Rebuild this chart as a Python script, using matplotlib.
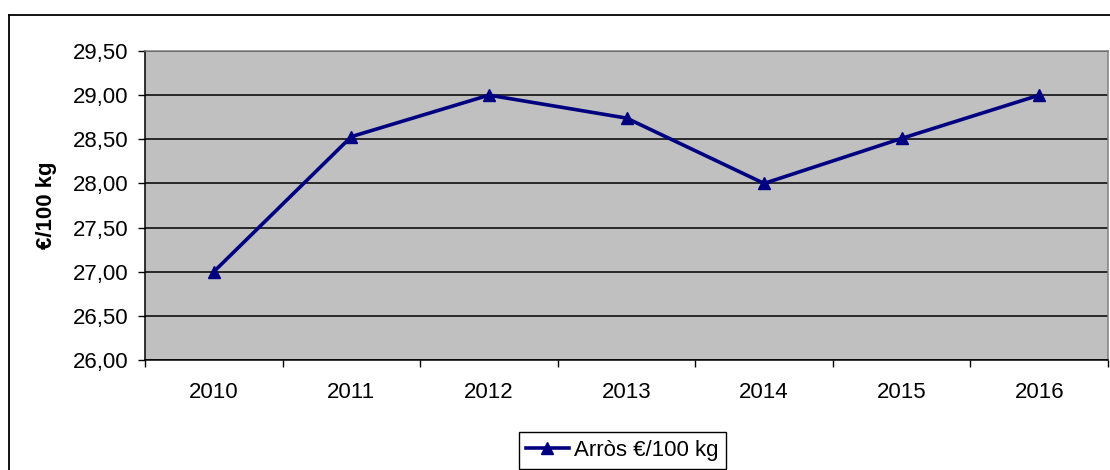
import matplotlib
matplotlib.use("Agg")
import matplotlib.pyplot as plt
from matplotlib.lines import Line2D
from matplotlib.ticker import FixedLocator, FuncFormatter

plt.rcParams['font.family'] = ['Liberation Sans', 'DejaVu Sans']

years = ['2010', '2011', '2012', '2013', '2014', '2015', '2016']
values = [27.00, 28.53, 29.00, 28.74, 28.00, 28.51, 29.00]
series_name = 'Arròs €/100 kg'
y_label = '€/100 kg'
y_ticks = [26.0, 26.5, 27.0, 27.5, 28.0, 28.5, 29.0, 29.5]

FS = 16
W, H = 1110, 470
fig = plt.figure(figsize=(W / 100, H / 100), dpi=100)
ax = fig.add_axes([145 / W, 1 - 360 / H, (1108 - 145) / W, (360 - 51) / H])

ax.set_facecolor('#C0C0C0')
x = list(range(len(years)))
line, = ax.plot(x, values, color='#000080', linewidth=2.6, marker='^',
                markersize=8, markerfacecolor='#000080', markeredgecolor='#000080',
                label=series_name, zorder=3)

ax.set_xlim(-0.5, len(years) - 0.5)
ax.set_ylim(y_ticks[0], y_ticks[-1])

# y axis
ax.set_yticks(y_ticks)
ax.yaxis.set_major_formatter(FuncFormatter(lambda v, p: f"{v:.2f}".replace('.', ',')))
ax.tick_params(axis='y', direction='out', length=5, width=1, pad=7, labelsize=FS, colors='black')
ax.grid(axis='y', color='black', linewidth=1.1, zorder=1)
ax.set_axisbelow(True)

# x axis: ticks at boundaries, labels at centers
ax.xaxis.set_major_locator(FixedLocator([i - 0.5 for i in range(len(years) + 1)]))
ax.xaxis.set_major_formatter(FuncFormatter(lambda v, p: ''))
ax.xaxis.set_minor_locator(FixedLocator(x))
ax.xaxis.set_minor_formatter(FuncFormatter(lambda v, p: years[int(round(v))]))
ax.tick_params(axis='x', which='major', direction='out', length=5, width=1)
ax.tick_params(axis='x', which='minor', length=0, pad=16, labelsize=FS)

for side in ['left', 'bottom']:
    ax.spines[side].set_color('black')
    ax.spines[side].set_linewidth(1.1)
for side in ['top', 'right']:
    ax.spines[side].set_color('#808080')
    ax.spines[side].set_linewidth(1.1)

ax.set_ylabel(y_label, fontsize=FS, fontweight='bold', labelpad=11)

leg = fig.legend(handles=[line], loc='upper center', bbox_to_anchor=(622.5 / W, 1 - 432 / H),
                 fontsize=FS, frameon=True, fancybox=False, framealpha=1,
                 edgecolor='black', borderpad=0.35, handlelength=1.9, handletextpad=0.25,
                 borderaxespad=0)
leg.get_frame().set_linewidth(1.0)

# outer chart frame (left and top visible)
fig.add_artist(Line2D([9 / W, 9 / W], [0, 1 - 15 / H], color='black', linewidth=1.3,
                      transform=fig.transFigure))
fig.add_artist(Line2D([9 / W, 1.0], [1 - 15 / H, 1 - 15 / H], color='black', linewidth=1.3,
                      transform=fig.transFigure))

fig.savefig('out.png', dpi=100, facecolor='white')
